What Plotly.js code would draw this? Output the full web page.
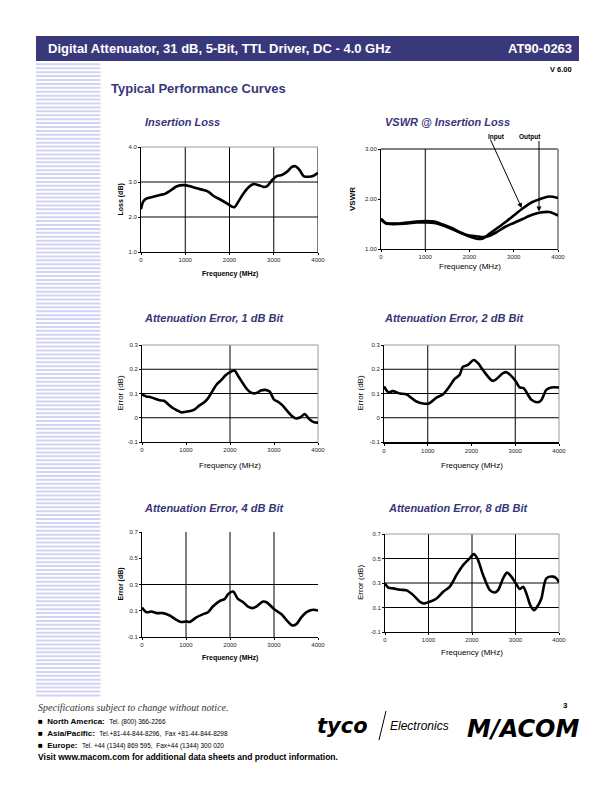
<!DOCTYPE html>
<html><head><meta charset="utf-8">
<script src="https://cdn.plot.ly/plotly-3.0.1.min.js"></script>
<style>html,body{margin:0;padding:0;background:#fff}#chart{width:612px;height:792px}</style>
</head><body><div id="chart"></div>
<script>
// ---------------- DATA ----------------
const freqTicks = [0, 1000, 2000, 3000, 4000];

const ilFreq = [0,50,130,280,430,540,660,810,960,1110,1260,1410,1525,1640,1790,1940,2050,2110,2200,2320,2430,2540,2660,2770,2850,2960,3070,3185,3300,3410,3490,3585,3675,3790,3900,4000];
const ilLoss = [2.22,2.44,2.53,2.58,2.63,2.66,2.75,2.88,2.91,2.88,2.82,2.77,2.72,2.60,2.50,2.39,2.30,2.28,2.44,2.68,2.85,2.94,2.91,2.86,2.88,3.05,3.17,3.20,3.29,3.43,3.45,3.34,3.17,3.15,3.18,3.26];

const vswrFreq   = [0,100,200,400,600,800,1000,1200,1400,1600,1800,2000,2200,2300,2400,2600,2800,3000,3200,3400,3600,3800,4000];
const vswrInput  = [1.60,1.52,1.51,1.51,1.53,1.55,1.56,1.55,1.49,1.42,1.33,1.25,1.20,1.21,1.27,1.40,1.53,1.67,1.81,1.93,2.00,2.05,2.02];
const vswrOutput = [1.60,1.52,1.50,1.50,1.51,1.53,1.53,1.52,1.47,1.40,1.32,1.27,1.25,1.24,1.25,1.33,1.44,1.52,1.60,1.68,1.73,1.74,1.67];

const e1Freq = [0,100,200,300,400,500,600,700,800,900,1000,1100,1200,1300,1400,1500,1600,1700,1800,1900,2000,2100,2200,2300,2400,2500,2600,2700,2800,2900,3000,3100,3200,3300,3400,3500,3600,3700,3800,3900,4000];
const e1Err  = [0.095,0.088,0.085,0.078,0.072,0.070,0.055,0.040,0.030,0.022,0.025,0.028,0.035,0.050,0.062,0.080,0.110,0.138,0.155,0.175,0.188,0.195,0.168,0.140,0.115,0.102,0.102,0.112,0.115,0.108,0.075,0.065,0.050,0.028,0.008,-0.003,0.002,0.015,-0.005,-0.018,-0.020];

const e2Freq = [0,100,200,360,510,740,930,1040,1200,1350,1500,1615,1730,1800,1920,2050,2150,2260,2490,2720,2800,2990,3100,3190,3370,3520,3600,3710,3830,4000];
const e2Err  = [0.129,0.105,0.110,0.100,0.097,0.067,0.058,0.060,0.083,0.097,0.130,0.160,0.177,0.210,0.218,0.238,0.225,0.197,0.152,0.184,0.188,0.156,0.125,0.122,0.074,0.064,0.074,0.115,0.125,0.125];

const e4Freq = [0,100,210,330,480,630,780,890,1010,1080,1235,1390,1500,1610,1770,1880,1955,2070,2180,2300,2410,2520,2600,2750,2830,3020,3170,3280,3420,3510,3620,3740,3890,4000];
const e4Err  = [0.125,0.089,0.094,0.082,0.082,0.064,0.031,0.014,0.019,0.014,0.049,0.074,0.089,0.132,0.175,0.190,0.226,0.246,0.190,0.165,0.132,0.120,0.132,0.170,0.165,0.107,0.074,0.031,-0.012,-0.002,0.049,0.089,0.107,0.102];

const e8Freq = [0,76,190,344,497,650,800,895,1030,1185,1340,1490,1645,1800,1950,2040,2120,2255,2410,2525,2600,2715,2805,2905,3020,3100,3175,3250,3340,3425,3520,3595,3710,3860,3940,4000];
const e8Err  = [0.297,0.262,0.256,0.245,0.240,0.201,0.147,0.133,0.147,0.174,0.229,0.270,0.366,0.448,0.503,0.536,0.503,0.366,0.242,0.223,0.242,0.338,0.385,0.352,0.289,0.251,0.270,0.215,0.119,0.078,0.119,0.174,0.338,0.352,0.338,0.305];

const ilTicks = [1, 2, 3, 4];
const ilTickText = ['1.0', '2.0', '3.0', '4.0'];
const vswrTicks = [1, 2, 3];
const vswrTickText = ['1.00', '2.00', '3.00'];
const errSmallTicks = [-0.1, 0, 0.1, 0.2, 0.3];
const errSmallText = ['-0.1', '0', '0.1', '0.2', '0.3'];
const errBigTicks = [-0.1, 0.1, 0.3, 0.5, 0.7];
const errBigText = ['-0.1', '0.1', '0.3', '0.5', '0.7'];

// ---------------- LAYOUT HELPERS ----------------
const W = 612, H = 792;
const px = v => v / W;
const py = v => 1 - v / H;
const FONT = 'Liberation Sans, Arial, sans-serif';
const BLUE = 'rgb(55,53,122)';

const panels = [
  {n:'',  box:[141,147,318,252], yr:[1,4],      yt:ilTicks,  ytt:ilTickText,  hg:[2,3],        vg:[1000,2000,3000,4000], top:'#9a9a9a', right:null,      bw:1,
   title:'Insertion Loss', tx:143, ty:122, ytitle:'Loss (dB)', ytx:120, ybold:true, ysz:7, xty:274, xbold:true, xsz:7},
  {n:'2', box:[381,149,558,249], yr:[1,3],      yt:vswrTicks, ytt:vswrTickText, hg:[],         vg:[1000],                top:'#000',    right:'#9a9a9a', rw:2, bw:1,
   title:'VSWR @ Insertion Loss', tx:383, ty:122, ytitle:'VSWR', ytx:352, ybold:true, ysz:8, xty:266, xbold:false, xsz:8},
  {n:'3', box:[142,345,318,442], yr:[-0.1,0.3], yt:errSmallTicks, ytt:errSmallText, hg:[0,0.1,0.2], vg:[2000],        top:'#9a9a9a', right:'#9a9a9a', bw:1,
   title:'Attenuation Error, 1 dB Bit', tx:142, ty:318, ytitle:'Error (dB)', ytx:120, ybold:false, ysz:8, xty:466, xbold:false, xsz:8},
  {n:'4', box:[384,345,559,442], yr:[-0.1,0.3], yt:errSmallTicks, ytt:errSmallText, hg:[0,0.1,0.2], vg:[1000,3000],   top:'#9a9a9a', right:'#9a9a9a', bw:2,
   title:'Attenuation Error, 2 dB Bit', tx:382, ty:318, ytitle:'Error (dB)', ytx:360, ybold:false, ysz:8, xty:465, xbold:false, xsz:8},
  {n:'5', box:[142,532,318,637], yr:[-0.1,0.7], yt:errBigTicks, ytt:errBigText, hg:[0.3],          vg:[1000,2000,3000], top:null,      right:null,      bw:1,
   title:'Attenuation Error, 4 dB Bit', tx:142, ty:508, ytitle:'Error (dB)', ytx:120, ybold:true, ysz:7, xty:658, xbold:true, xsz:7},
  {n:'6', box:[385,534,559,632], yr:[-0.1,0.7], yt:errBigTicks, ytt:errBigText, hg:[0.1,0.3,0.5],  vg:[1000,2000,3000], top:'#9a9a9a', right:'#9a9a9a', bw:1,
   title:'Attenuation Error, 8 dB Bit', tx:386, ty:508, ytitle:'Error (dB)', ytx:360, ybold:false, ysz:8, xty:652, xbold:false, xsz:8}
];

const series = [
  {p:0, x:ilFreq,   y:ilLoss},
  {p:1, x:vswrFreq, y:vswrInput},
  {p:1, x:vswrFreq, y:vswrOutput},
  {p:2, x:e1Freq,   y:e1Err},
  {p:3, x:e2Freq,   y:e2Err},
  {p:4, x:e4Freq,   y:e4Err},
  {p:5, x:e8Freq,   y:e8Err}
];

const layout = {
  width: W, height: H,
  margin: {l:0, r:0, t:0, b:0, pad:0},
  paper_bgcolor: '#fff', plot_bgcolor: '#fff',
  showlegend: false,
  font: {family: FONT, color: '#000'},
  shapes: [], annotations: []
};

panels.forEach(p => {
  const [x0, y0, x1, y1] = p.box;
  const xa = 'xaxis' + p.n, ya = 'yaxis' + p.n;
  const xr = 'x' + p.n, yr = 'y' + p.n;
  layout[xa] = {
    domain: [px(x0), px(x1)], anchor: yr, range: [0, 4000],
    tickvals: freqTicks, ticktext: freqTicks.map(String),
    showgrid: false, zeroline: false, showline: true, linecolor: '#000', linewidth: p.bw,
    ticks: 'outside', ticklen: 2, tickcolor: '#000',
    tickfont: {size: 6, color: '#222', family: FONT}, fixedrange: true
  };
  layout[ya] = {
    domain: [py(y1), py(y0)], anchor: xr, range: p.yr,
    tickvals: p.yt, ticktext: p.ytt,
    showgrid: false, zeroline: false, showline: true, linecolor: '#000', linewidth: 1,
    ticks: 'outside', ticklen: 2, tickcolor: '#000',
    tickfont: {size: 6, color: '#222', family: FONT}, fixedrange: true
  };
  p.hg.forEach(v => layout.shapes.push({type:'line', layer:'below', xref: xr + ' domain', yref: yr, x0:0, x1:1, y0:v, y1:v, line:{color:'#000', width:1}}));
  p.vg.forEach(v => layout.shapes.push({type:'line', layer:'below', xref: xr, yref: yr + ' domain', x0:v, x1:v, y0:0, y1:1, line:{color:'#000', width:1}}));
  if (p.top) layout.shapes.push({type:'line', layer:'below', xref: xr + ' domain', yref: yr + ' domain', x0:0, x1:1, y0:1, y1:1, line:{color:p.top, width:1}});
  if (p.right) layout.shapes.push({type:'line', layer:'below', xref: xr + ' domain', yref: yr + ' domain', x0:1, x1:1, y0:0, y1:1, line:{color:p.right, width:p.rw || 1}});
  layout.annotations.push({xref:'paper', yref:'paper', x:px(p.tx), y:py(p.ty), xanchor:'left', yanchor:'middle', showarrow:false,
    text:'<b><i>' + p.title + '</i></b>', font:{size:11, color:BLUE, family:FONT}});
  layout.annotations.push({xref:'paper', yref:'paper', x:px(p.ytx), y:py((y0 + y1) / 2), xanchor:'center', yanchor:'middle', showarrow:false, textangle:-90,
    text: p.ybold ? '<b>' + p.ytitle + '</b>' : p.ytitle, font:{size:p.ysz, color:'#000', family:FONT}});
  layout.annotations.push({xref:'paper', yref:'paper', x:px((x0 + x1) / 2), y:py(p.xty), xanchor:'center', yanchor:'middle', showarrow:false,
    text: p.xbold ? '<b>Frequency (MHz)</b>' : 'Frequency (MHz)', font:{size:p.xsz, color:'#000', family:FONT}});
});

const data = series.map(s => {
  const n = panels[s.p].n;
  return {type:'scatter', mode:'lines', x:s.x, y:s.y, xaxis:'x' + n, yaxis:'y' + n,
    line:{color:'#000', width:2.6, shape:'spline', smoothing:0.8}, hoverinfo:'skip', cliponaxis:true};
});

// VSWR arrows and labels
layout.annotations.push({xref:'x2', yref:'y2', x:3180, y:1.82, ax:-32, ay:-70, showarrow:true, arrowhead:2, arrowsize:1, arrowwidth:1, arrowcolor:'#000', text:''});
layout.annotations.push({xref:'x2', yref:'y2', x:3571, y:1.75, ax:0, ay:-72, showarrow:true, arrowhead:2, arrowsize:1, arrowwidth:1, arrowcolor:'#000', text:''});
layout.annotations.push({xref:'paper', yref:'paper', x:px(496), y:py(136.5), xanchor:'center', yanchor:'middle', showarrow:false, text:'<b>Input</b>', font:{size:6.5, color:'#000', family:FONT}});
layout.annotations.push({xref:'paper', yref:'paper', x:px(530), y:py(136.5), xanchor:'center', yanchor:'middle', showarrow:false, text:'<b>Output</b>', font:{size:6.5, color:'#000', family:FONT}});

// header bar
layout.shapes.push({type:'rect', layer:'below', xref:'paper', yref:'paper', x0:px(36), x1:px(579), y0:py(61), y1:py(36), fillcolor:'rgb(57,56,122)', line:{width:0}});
// side stripes
let path = '';
for (let y = 63.3; y < 697; y += 3.92) {
  const a = py(y), b = py(y + 2);
  path += `M${px(36)},${a} L${px(100.5)},${a} L${px(100.5)},${b} L${px(36)},${b} Z `;
}
layout.shapes.push({type:'path', layer:'below', xref:'paper', yref:'paper', path:path, fillcolor:'#d3d3f6', line:{width:0}});

// header texts
layout.annotations.push({xref:'paper', yref:'paper', x:px(46), y:py(48.5), xanchor:'left', yanchor:'middle', showarrow:false,
  text:'<b>Digital Attenuator, 31 dB, 5-Bit, TTL Driver, DC - 4.0 GHz</b>', font:{size:13, color:'#fff', family:FONT}});
layout.annotations.push({xref:'paper', yref:'paper', x:px(574), y:py(48.5), xanchor:'right', yanchor:'middle', showarrow:false,
  text:'<b>AT90-0263</b>', font:{size:13, color:'#fff', family:FONT}});
layout.annotations.push({xref:'paper', yref:'paper', x:px(574), y:py(69), xanchor:'right', yanchor:'middle', showarrow:false,
  text:'<b>V 6.00</b>', font:{size:7.5, color:'#000', family:FONT}});
layout.annotations.push({xref:'paper', yref:'paper', x:px(109), y:py(88), xanchor:'left', yanchor:'middle', showarrow:false,
  text:'<b>Typical Performance Curves</b>', font:{size:13, color:BLUE, family:FONT}});

// footer
layout.annotations.push({xref:'paper', yref:'paper', x:px(36), y:py(707), xanchor:'left', yanchor:'middle', showarrow:false,
  text:'<i>Specifications subject to change without notice.</i>', font:{size:10, color:'#333', family:'Liberation Serif, Times New Roman, serif'}});
const footLines = [
  ['North America:', 'Tel. (800) 366-2266', 721],
  ['Asia/Pacific:', 'Tel.+81-44-844-8296,  Fax +81-44-844-8298', 733],
  ['Europe:', 'Tel. +44 (1344) 869 595,  Fax+44 (1344) 300 020', 745]
];
footLines.forEach(([lab, txt, y]) => {
  layout.annotations.push({xref:'paper', yref:'paper', x:px(36), y:py(y), xanchor:'left', yanchor:'middle', showarrow:false,
    text:'■  <b>' + lab + '</b>  <span style="font-size:6.5px">' + txt + '</span>', font:{size:8, color:'#000', family:FONT}});
});
layout.annotations.push({xref:'paper', yref:'paper', x:px(36), y:py(757), xanchor:'left', yanchor:'middle', showarrow:false,
  text:'<b>Visit www.macom.com for additional data sheets and product information.</b>', font:{size:8.5, color:'#000', family:FONT}});
layout.annotations.push({xref:'paper', yref:'paper', x:px(570), y:py(705), xanchor:'right', yanchor:'middle', showarrow:false,
  text:'<b>3</b>', font:{size:8, color:'#000', family:FONT}});
// logos (text)
layout.annotations.push({xref:'paper', yref:'paper', x:px(315), y:py(726), xanchor:'left', yanchor:'middle', showarrow:false,
  text:'<b><i>tyco</i></b>', font:{size:21, color:'#000', family:'DejaVu Sans, sans-serif'}});
layout.shapes.push({type:'line', xref:'paper', yref:'paper', x0:px(386), x1:px(379), y0:py(711), y1:py(740), line:{color:'#000', width:1}});
layout.annotations.push({xref:'paper', yref:'paper', x:px(388), y:py(726), xanchor:'left', yanchor:'middle', showarrow:false,
  text:'<i>Electronics</i>', font:{size:12, color:'#000', family:FONT}});
layout.annotations.push({xref:'paper', yref:'paper', x:px(465), y:py(729), xanchor:'left', yanchor:'middle', showarrow:false,
  text:'<b><i>M/ACOM</i></b>', font:{size:24, color:'#000', family:'DejaVu Sans, sans-serif'}});

Plotly.newPlot('chart', data, layout, {staticPlot:true, displayModeBar:false});
</script></body></html>
